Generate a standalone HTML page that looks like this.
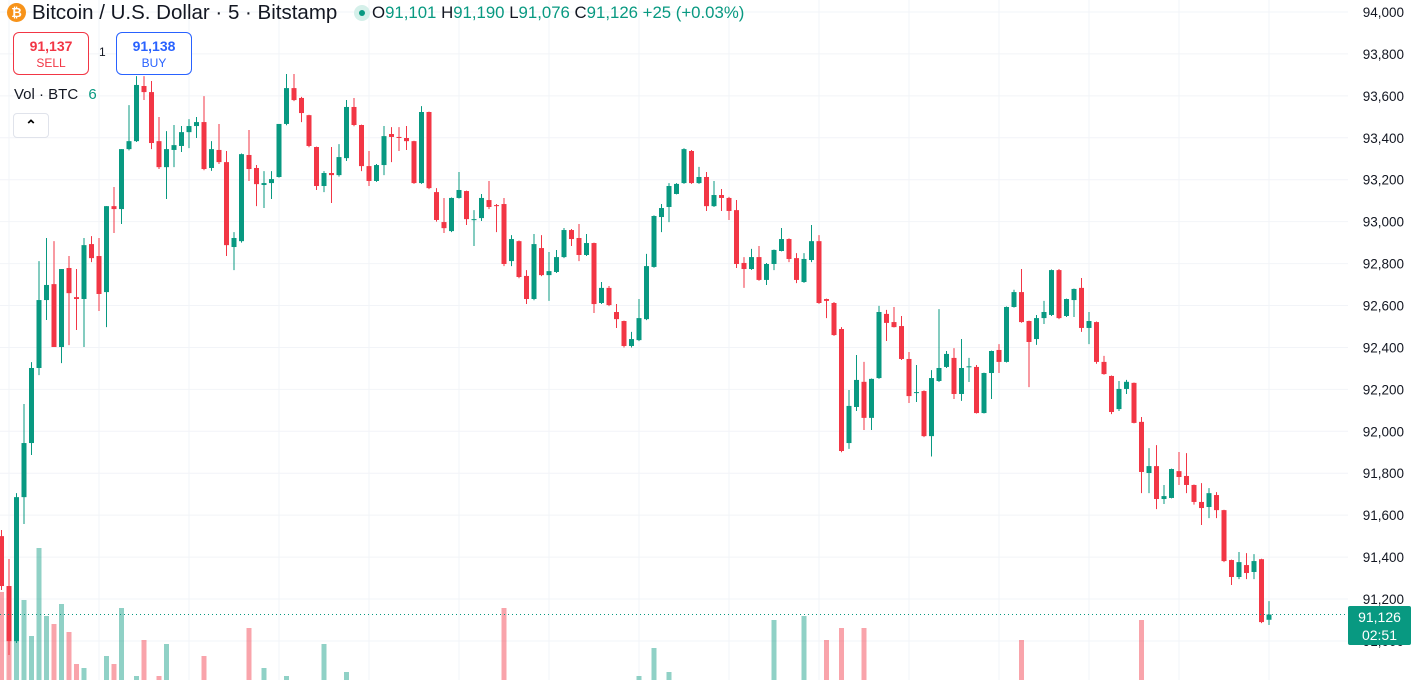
<!DOCTYPE html>
<html><head><meta charset="utf-8"><style>
html,body{margin:0;padding:0;background:#fff;width:1418px;height:680px;overflow:hidden;font-family:"Liberation Sans",sans-serif;}
#wrap{position:relative;width:1418px;height:680px;overflow:hidden;}
svg{position:absolute;left:0;top:0;overflow:hidden}
.hdr{position:absolute;white-space:nowrap;color:#131722}
.box{position:absolute;border-radius:6px;background:#fff;text-align:center;box-sizing:border-box}
</style></head><body><div id="wrap">
<svg id="chart" width="1418" height="680"></svg>
<div class="hdr" style="left:7px;top:3px;width:19px;height:19px;border-radius:50%;background:#f7931a;color:#fff;font-size:13px;font-weight:bold;text-align:center;line-height:19px">₿</div>
<div class="hdr" style="left:32px;top:1px;font-size:20.5px;line-height:24px">Bitcoin / U.S. Dollar · 5 · Bitstamp</div>
<div class="hdr" style="left:354px;top:5px;width:16px;height:16px;border-radius:50%;background:#d5f0ea"><div style="position:absolute;left:5px;top:5px;width:6px;height:6px;border-radius:50%;background:#089981"></div></div>
<div class="hdr" style="left:372px;top:3px;font-size:16.8px;line-height:20px;color:#089981"><span style="color:#131722">O</span>91,101 <span style="color:#131722">H</span>91,190 <span style="color:#131722">L</span>91,076 <span style="color:#131722">C</span>91,126 +25 (+0.03%)</div>
<div class="box" style="left:13px;top:32px;width:76px;height:43px;border:1px solid #f23645;color:#f23645"><div style="font-size:14px;font-weight:bold;margin-top:5px">91,137</div><div style="font-size:12px;margin-top:2px">SELL</div></div>
<div class="hdr" style="left:99px;top:45px;font-size:12px">1</div>
<div class="box" style="left:116px;top:32px;width:76px;height:43px;border:1px solid #2962ff;color:#2962ff"><div style="font-size:14px;font-weight:bold;margin-top:5px">91,138</div><div style="font-size:12px;margin-top:2px">BUY</div></div>
<div class="hdr" style="left:14px;top:86px;font-size:15px">Vol · BTC <span style="color:#089981;margin-left:6px">6</span></div>
<div class="box" style="left:13px;top:113px;width:36px;height:25px;border:1px solid #e0e3eb;border-radius:4px;font-size:14px;line-height:22px;font-weight:bold">⌃</div>
<div class="box" style="left:1348px;top:606px;width:63px;height:39px;background:#089981;border-radius:2px;color:#fff;font-size:14px;line-height:18px;padding-top:2px">91,126<br>02:51</div>
</div>
<script>
const opens=[91500,91262,90999,91686,91944,92302,92626,92702,92402,92779,92640,92631,92893,92836,92664,93074,93060,93346,93384,93647,93618,93384,93260,93342,93361,93427,93456,93475,93256,93342,93284,92879,92907,93318,93256,93175,93184,93213,93466,93637,93590,93508,93356,93170,93232,93222,93303,93547,93461,93265,93194,93270,93418,93404,93399,93384,93184,93523,93141,92998,92955,93113,93146,93008,93017,93103,93079,93084,92812,92907,92741,92631,92874,92745,92760,92831,92960,92922,92841,92898,92612,92684,92569,92526,92407,92435,92535,92784,93022,93070,93132,93184,93337,93184,93213,93074,93127,93113,93055,92803,92774,92831,92722,92798,92860,92917,92826,92712,92817,92907,92631,92612,92488,91944,92116,92236,92064,92254,92560,92521,92502,92345,92183,92192,91977,92240,92307,92350,92178,92307,92307,92087,92278,92388,92331,92593,92664,92526,92440,92540,92555,92769,92550,92626,92684,92493,92521,92331,92264,92106,92202,92231,92045,91801,91834,91677,91682,91810,91787,91744,91663,91639,91696,91624,91386,91305,91362,91329,91390,91101];
const highs=[91529,91391,91705,92130,92330,92812,92922,92907,92774,92836,92774,92922,92931,92922,93074,93165,93346,93556,93694,93694,93671,93499,93432,93461,93456,93489,93499,93599,93384,93466,93337,92950,93325,93437,93270,93241,93241,93466,93704,93704,93595,93510,93358,93241,93356,93370,93580,93590,93463,93337,93275,93456,93451,93451,93456,93386,93551,93525,93160,93113,93115,93237,93148,93055,93132,93194,93084,93113,92936,92910,92769,92941,92936,92855,92865,92970,92965,92989,92941,92900,92712,92693,92607,92528,92474,92631,92846,93030,93084,93184,93184,93350,93342,93261,93237,93194,93156,93118,93103,92831,92870,92884,92803,92867,92970,92920,92850,92850,92984,92936,92633,92617,92497,92197,92364,92331,92252,92598,92579,92593,92550,92378,92316,92195,92292,92583,92383,92397,92440,92350,92316,92280,92385,92416,92595,92675,92774,92528,92555,92622,92772,92774,92633,92681,92731,92569,92524,92360,92266,92240,92245,92233,92068,91920,91934,91744,91822,91901,91896,91746,91753,91729,91710,91626,91388,91424,91419,91414,91392,91190];
const lows=[91243,90933,90990,91558,91887,92268,92531,92402,92325,92411,92483,92402,92807,92574,92497,92946,92989,93340,93380,93580,93346,93251,93108,93260,93332,93351,93399,93245,93242,93275,92836,92769,92900,93194,93074,93065,93108,93210,93460,93575,93475,93355,93151,93141,93089,93215,93289,93455,93241,93170,93190,93222,93284,93337,93342,93180,93180,93155,93000,92946,92950,93110,92984,92884,93003,93060,92950,92788,92788,92730,92607,92625,92740,92622,92755,92826,92884,92812,92836,92564,92607,92597,92493,92400,92400,92430,92530,92780,92950,92998,93130,93180,93180,93180,93051,93070,93051,93008,92779,92684,92770,92718,92698,92769,92858,92807,92707,92708,92807,92608,92540,92455,91900,91916,92097,92006,92006,92250,92431,92495,92340,92135,92140,91972,91880,92235,92302,92154,92145,92235,92085,92085,92154,92278,92328,92590,92518,92211,92412,92512,92550,92535,92545,92545,92474,92416,92322,92270,92082,92097,92178,92038,91705,91705,91629,91653,91680,91744,91705,91650,91553,91586,91586,91376,91267,91295,91295,91295,91085,91076];
const closes=[91262,90999,91686,91944,92302,92626,92698,92402,92774,92659,92631,92888,92826,92655,93074,93060,93346,93384,93652,93618,93375,93260,93346,93365,93427,93456,93475,93251,93346,93284,92888,92922,93322,93251,93179,93184,93203,93466,93637,93580,93518,93361,93170,93232,93222,93308,93547,93461,93265,93194,93270,93408,93404,93399,93384,93184,93523,93160,93008,92969,93113,93151,93012,93012,93113,93070,93074,92798,92917,92736,92631,92893,92745,92764,92831,92960,92917,92841,92898,92607,92684,92602,92535,92407,92440,92540,92788,93027,93065,93170,93180,93346,93184,93213,93074,93127,93113,93051,92798,92774,92831,92722,92798,92865,92917,92822,92722,92822,92907,92612,92622,92459,91906,92121,92245,92064,92250,92569,92517,92497,92345,92168,92187,91977,92254,92302,92369,92178,92302,92310,92087,92278,92383,92331,92593,92664,92521,92426,92540,92569,92769,92540,92631,92679,92493,92526,92331,92273,92092,92202,92236,92040,91806,91834,91677,91691,91820,91782,91744,91663,91634,91705,91624,91381,91305,91376,91324,91381,91090,91126];
const volumes=[32,31,35,30,21,43,26,24,29,22,14,13,8,10,16,14,28,8,11,20,8,11,19,6,5,6,7,16,6,5,7,6,5,23,6,13,6,5,11,6,5,7,6,19,6,5,12,5,6,4,5,6,5,4,6,5,7,5,6,5,4,5,6,5,4,5,6,28,5,6,5,4,6,5,4,5,6,5,4,6,5,4,5,6,5,11,6,18,6,12,5,4,6,5,4,5,6,5,7,6,5,4,5,25,6,5,4,26,7,7,20,7,23,7,7,23,6,5,4,5,6,5,4,6,5,4,6,5,5,4,6,5,4,5,6,5,20,5,6,4,5,6,5,4,6,5,5,4,6,5,4,5,25,6,5,4,6,5,4,6,5,4,5,6,5,4,6,5,6,6];
const priceTicks=[94000,93800,93600,93400,93200,93000,92800,92600,92400,92200,92000,91800,91600,91400,91200,91000,90800];
const lastPrice=91126;

const NS='http://www.w3.org/2000/svg';
const svg=document.getElementById('chart');
const plotRight=1348;
function yScale(p){return 12+(94000-p)*41.93/200;}
function xScale(i){return 1.5+7.5*i;}
function volH(v){return v*4;}
const volBase=720;
function mk(tag,attrs,parent){const e=document.createElementNS(NS,tag);for(const k in attrs)e.setAttribute(k,attrs[k]);(parent||svg).appendChild(e);return e;}
const grid=mk('g',{});


priceTicks.forEach(p=>{
  const y=yScale(p);
  const l=mk('line',{x1:0,x2:plotRight,y1:y,y2:y,stroke:'#f2f4f8','stroke-width':1},grid);
  
  
});
for(let i=1;i<opens.length;i+=12){
  const x=xScale(i);
  const l=mk('line',{x1:x,x2:x,y1:0,y2:680,stroke:'#f2f4f8','stroke-width':1},grid);
  
  
}
const vg=mk('g',{});


volumes.forEach((v,i)=>{
  const up=closes[i]>=opens[i];
  const h=volH(v);
  const top=volBase-h;
  if(top>=680) return;
  const r=mk('rect',{x:xScale(i)-2.5,y:top,width:5,height:680-top,fill:up?'rgba(8,153,129,0.45)':'rgba(242,54,69,0.45)'},vg);
  
  
});
const cg=mk('g',{});


opens.forEach((o,i)=>{
  const c=closes[i],up=c>=o,col=up?'#089981':'#f23645',x=xScale(i);
  const g=mk('g',{},cg);
  
  
  mk('line',{x1:x,x2:x,y1:yScale(highs[i]),y2:yScale(lows[i]),stroke:col,'stroke-width':1},g);
  const t=yScale(Math.max(o,c)),b=yScale(Math.min(o,c));
  mk('rect',{x:x-2.5,y:t,width:5,height:Math.max(1,b-t),fill:col},g);
});
const ly=yScale(lastPrice);
const pl=mk('line',{x1:0,x2:plotRight,y1:ly,y2:ly,stroke:'#089981','stroke-width':1,'stroke-dasharray':'1 3'});


const ax=mk('g',{});


priceTicks.forEach(p=>{
  const yy=yScale(p)+5;
  if(yy>678) return;
  const t=mk('text',{x:1404,y:yy,'text-anchor':'end','font-size':13.5,fill:'#131722','font-family':'Liberation Sans, sans-serif'},ax);
  t.textContent=p.toLocaleString('en-US');
  
  
});
</script>
</body></html>
